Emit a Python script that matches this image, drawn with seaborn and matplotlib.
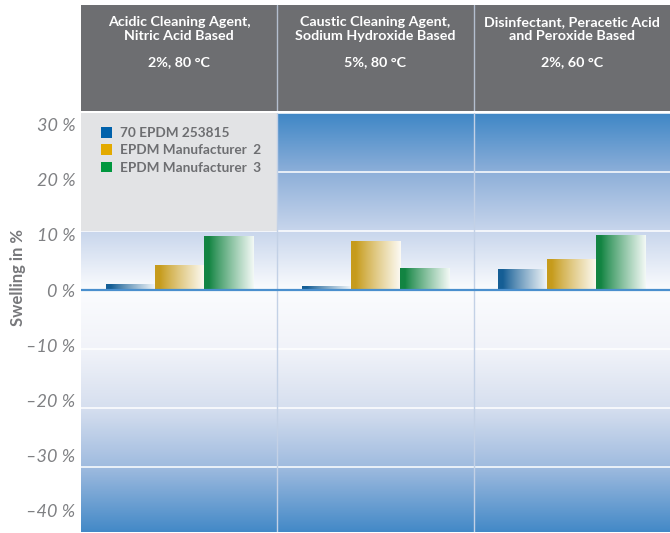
import numpy as np
import pandas as pd
import matplotlib

matplotlib.use("Agg")
import matplotlib.pyplot as plt
import seaborn as sns
from matplotlib.colors import to_rgb
from matplotlib.patches import Patch, Rectangle

# data
agents = [
    "Acidic Cleaning Agent,\nNitric Acid Based",
    "Caustic Cleaning Agent,\nSodium Hydroxide Based",
    "Disinfectant, Peracetic Acid\nand Peroxide Based",
]
conditions = ["2%, 80 °C", "5%, 80 °C", "2%, 60 °C"]
materials = ["70 EPDM 253815", "EPDM Manufacturer  2", "EPDM Manufacturer  3"]
swelling_70_epdm = [0.9, 0.6, 3.4]
swelling_manuf_2 = [4.2, 8.3, 5.2]
swelling_manuf_3 = [9.1, 3.6, 9.2]
y_ticks = [30, 20, 10, 0, -10, -20, -30, -40]
y_tick_labels = ["30 %", "20 %", "10 %", "0 %", "\u201310 %", "\u201320 %", "\u201330 %", "\u201340 %"]

bar_colors = ["#0061ab", "#e3aa00", "#00973f"]
header_gray = "#6d6e71"
text_gray = "#77787b"
font = ["Lato", "DejaVu Sans"]

# _______________________________________________________________________________________________________________________

df = pd.DataFrame(
    {
        "agent": np.repeat(agents, len(materials)),
        "material": materials * len(agents),
        "swelling": [v for trio in zip(swelling_70_epdm, swelling_manuf_2, swelling_manuf_3) for v in trio],
    }
)

sns.set_style("white")
plt.rcParams["font.family"] = font

fig = plt.figure(figsize=(6.7, 5.33), dpi=100)
left = 81 / 670
ax_pos = [left, 1 / 533, 1 - left, 419 / 533]
ax = fig.add_axes(ax_pos)

sns.barplot(
    data=df,
    x="agent",
    y="swelling",
    hue="material",
    hue_order=materials,
    palette=bar_colors,
    width=0.75,
    legend=False,
    ax=ax,
)

xlim = (-0.5, len(agents) - 0.5)
ylim = (-41, 30)

# bars: solid on the left edge, fading to white on the right
for patch in list(ax.patches):
    x0, y0 = patch.get_x(), patch.get_y()
    w, h = patch.get_width(), patch.get_height()
    c = np.array(to_rgb(patch.get_facecolor()))
    t = np.linspace(0, 1, 120)
    f = np.clip((t - 0.1) / 0.9, 0, 1) ** 0.9 * 0.95
    img = c[None, :] * (1 - f[:, None]) + f[:, None]
    ax.imshow(
        img[None, :, :],
        extent=[x0, x0 + w, y0, y0 + h],
        aspect="auto",
        interpolation="bilinear",
        zorder=3,
    )
    patch.set_facecolor("none")
    patch.set_edgecolor("none")

# background: blue at top and bottom, white around zero
stops_v = [30, 20, 10, 0, -10, -20, -30, -41]
stops_c = ["#3f87c6", "#8dafd9", "#c8d6ec", "#fbfcfe", "#f1f3f9", "#d6dfef", "#9fbbdf", "#4389c7"]
yy = np.linspace(ylim[1], ylim[0], 500)
rgb = np.array([to_rgb(c) for c in stops_c])
bg = np.stack([np.interp(-yy, [-v for v in stops_v], rgb[:, k]) for k in range(3)], axis=-1)
ax.imshow(
    bg[:, None, :],
    extent=[xlim[0], xlim[1], ylim[0], ylim[1]],
    aspect="auto",
    interpolation="bilinear",
    zorder=0,
)

for y in y_ticks[:-1]:
    ax.axhline(y, color="white", lw=1.3, alpha=0.85, zorder=1)
ax.add_patch(Rectangle((xlim[0], 10), 1, ylim[1] - 10, facecolor="#e2e3e5", edgecolor="none", zorder=1.5))
for x in np.arange(len(agents) - 1) + 0.5:
    ax.axvline(x, color="#c3d1e6", lw=1, zorder=1.6)
ax.axhline(0, color="#4a8fce", lw=1.6, zorder=4)

ax.set_xlim(xlim)
ax.set_ylim(ylim)
ax.set_xticks([])
ax.set_yticks([])
ax.set_xlabel("")
ax.set_ylabel("")
for s in ax.spines.values():
    s.set_visible(False)

# the original's tick labels sit on a slightly tighter scale than its gridlines
lax = fig.add_axes(ax_pos, frameon=False)
lax.set_ylim(ylim[0] * 1.069, ylim[1] * 1.069)
lax.set_xticks([])
lax.set_yticks(y_ticks)
lax.set_yticklabels(y_tick_labels, fontstyle="italic", color="#7f8083", fontsize=13)
lax.tick_params(axis="y", length=0, pad=4)
lax.patch.set_visible(False)

lax.legend(
    handles=[Patch(facecolor=c, edgecolor="none") for c in bar_colors],
    labels=materials,
    loc="upper left",
    bbox_to_anchor=(0.034, 0.966),
    frameon=False,
    borderpad=0,
    borderaxespad=0,
    handlelength=0.8,
    handleheight=0.8,
    handletextpad=0.6,
    labelspacing=0.38,
    prop={"family": font, "weight": "bold", "size": 9.8},
    labelcolor=header_gray,
)

# header band with agent names and conditions
hax = fig.add_axes([left, 1 - 111 / 533, 1 - left, 106 / 533])
hax.set_facecolor(header_gray)
hax.set_xlim(xlim)
hax.set_ylim(0, 1)
hax.set_xticks([])
hax.set_yticks([])
for s in hax.spines.values():
    s.set_visible(False)
for x in np.arange(len(agents) - 1) + 0.5:
    hax.axvline(x, color="#b4bfcf", lw=1)
for i, (name, cond) in enumerate(zip(agents, conditions)):
    hax.text(i, 0.775, name, ha="center", va="center", color="white", fontweight="bold", fontsize=10.3, linespacing=1.25)
    hax.text(i, 0.46, cond, ha="center", va="center", color="white", fontweight="bold", fontsize=10.3)

fig.text(
    18 / 670,
    1 - 278 / 533,
    "Swelling in %",
    rotation=90,
    ha="center",
    va="center",
    color=text_gray,
    fontweight="bold",
    fontsize=12,
)

fig.savefig("out.png", dpi=100)
